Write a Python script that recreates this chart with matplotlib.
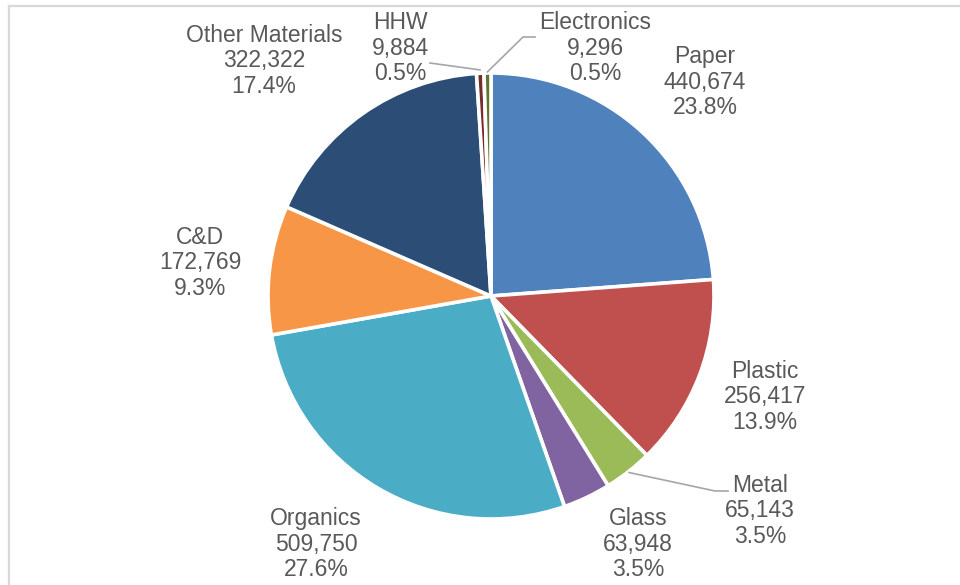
import numpy as np
import matplotlib
matplotlib.use("Agg")
import matplotlib.pyplot as plt
from matplotlib.lines import Line2D

categories = ["Paper", "Plastic", "Metal", "Glass", "Organics", "C&D",
              "Other Materials", "HHW", "Electronics"]
values = [440674, 256417, 65143, 63948, 509750, 172769, 322322, 9884, 9296]
colors = ["#4F81BD", "#C0504D", "#9BBB59", "#8064A2", "#4BACC6", "#F79646",
          "#2C4D75", "#772C2A", "#5F7530"]

W, H = 960, 585
fig = plt.figure(figsize=(W / 100, H / 100), dpi=100)
ax = fig.add_axes([0, 0, 1, 1])
ax.set_xlim(0, W)
ax.set_ylim(0, H)
ax.set_aspect("equal")
ax.axis("off")

cx, cy, R = 491, H - 296, 223
wedges, _ = ax.pie(values, colors=colors, startangle=90, counterclock=False,
                   center=(cx, cy), radius=R,
                   wedgeprops=dict(edgecolor="white", linewidth=2.6))
ax.set_xlim(0, W)
ax.set_ylim(0, H)

total = sum(values)
text_color = "#595959"
font = dict(family=["Liberation Sans", "DejaVu Sans"], size=16.5, color=text_color)

# label centres (pixel layout, y from top)
label_pos = {
    "Paper": (705, 82),
    "Plastic": (765, 397),
    "Metal": (760, 511),
    "Glass": (638, 544),
    "Organics": (316, 544),
    "C&D": (200, 263),
    "Other Materials": (264, 61),
    "HHW": (400, 48),
    "Electronics": (595, 48),
}

for cat, v in zip(categories, values):
    px, py = label_pos[cat]
    txt = f"{cat}\n{v:,}\n{100 * v / total:.1f}%"
    ax.text(px, H - py, txt, ha="center", va="center", linespacing=1.15, **font)

# leader lines for small slices
def mid_point(idx, scale=1.01):
    w = wedges[idx]
    ang = np.deg2rad((w.theta1 + w.theta2) / 2)
    return cx + R * scale * np.cos(ang), cy + R * scale * np.sin(ang)

lc = "#A6A6A6"
# HHW
x0, y0 = mid_point(categories.index("HHW"), 1.015)
ax.plot([430, x0], [H - 63, y0], color=lc, lw=1.2)
# Electronics
x0, y0 = mid_point(categories.index("Electronics"), 1.005)
ax.plot([535, 523, x0], [H - 37, H - 37, y0], color=lc, lw=1.2)
# Metal
x0, y0 = mid_point(categories.index("Metal"), 1.005)
ax.plot([728, 715, x0], [H - 491, H - 491, y0], color=lc, lw=1.2)

# outer frame
fc = "#D9D9D9"
fig.add_artist(Line2D([9 / W, 9 / W], [0, 1 - 5.5 / H], color=fc, lw=1.6,
                      transform=fig.transFigure))
fig.add_artist(Line2D([9 / W, 1], [1 - 5.5 / H, 1 - 5.5 / H], color=fc, lw=1.6,
                      transform=fig.transFigure))

fig.savefig("out.png", dpi=100, facecolor="white")
